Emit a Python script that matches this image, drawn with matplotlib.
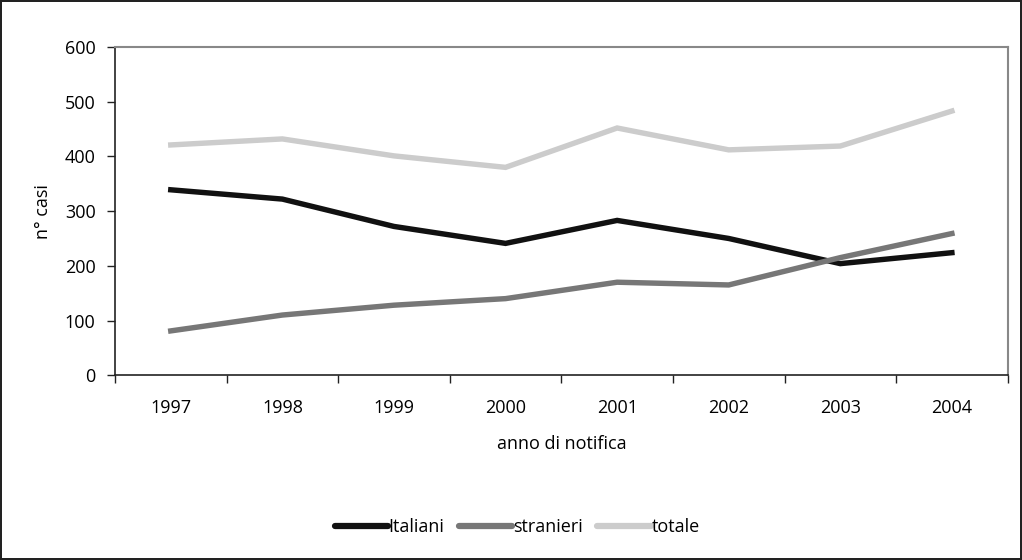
import matplotlib
matplotlib.use("Agg")
import matplotlib.pyplot as plt
import numpy as np

years = ["1997", "1998", "1999", "2000", "2001", "2002", "2003", "2004"]
italiani = [339, 322, 272, 241, 283, 250, 204, 224]
stranieri = [81, 110, 128, 140, 170, 165, 215, 259]
totale = [421, 432, 401, 380, 452, 412, 419, 483]

plt.rcParams['font.family'] = ['Open Sans', 'DejaVu Sans']
fs = 13

fig = plt.figure(figsize=(10.22, 5.6), dpi=100)
fig.patch.set_edgecolor('#222222')
fig.patch.set_linewidth(1.5)
ax = fig.add_axes([0.1125, 0.330, 0.8735, 0.586])

x = np.arange(len(years)) + 0.5
lw = 3.9
for vals, col, lab in [(italiani, '#111111', 'Italiani'),
                       (stranieri, '#777777', 'stranieri'),
                       (totale, '#cccccc', 'totale')]:
    ax.plot(x, vals, color=col, lw=lw, label=lab,
            solid_capstyle='projecting', solid_joinstyle='miter')

ax.set_xlim(0, len(years))
ax.set_ylim(0, 600)
ax.set_yticks(range(0, 601, 100))
ax.set_xticks(x)
ax.set_xticklabels(years)
ax.set_xticks(np.arange(len(years) + 1), minor=True)
ax.tick_params(axis='x', which='major', length=0, pad=17, labelsize=fs)
ax.tick_params(axis='x', which='minor', length=6, width=1, color='#222222', direction='out')
ax.tick_params(axis='y', length=6, width=1, color='#222222', labelsize=fs, pad=8)

for s in ['left', 'bottom']:
    ax.spines[s].set_color('#222222')
    ax.spines[s].set_linewidth(1.2)
for s in ['top', 'right']:
    ax.spines[s].set_color('#888888')
    ax.spines[s].set_linewidth(1.5)

ax.set_ylabel('n° casi', fontsize=fs, labelpad=9)
ax.set_xlabel('anno di notifica', fontsize=fs, labelpad=13)

leg = fig.legend(loc='center', bbox_to_anchor=(0.506, 0.059), ncol=3, frameon=False,
                 fontsize=fs, handlelength=2.95, handletextpad=0.05, columnspacing=0.8)
for h in leg.get_lines():
    h.set_linewidth(4.5)
    h.set_solid_capstyle('round')

fig.savefig('out.png', dpi=100)
